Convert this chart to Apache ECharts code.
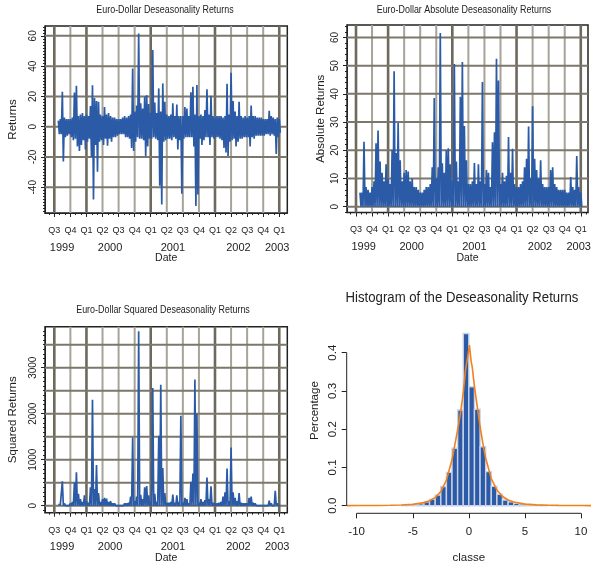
<!DOCTYPE html>
<html><head><meta charset="utf-8">
<script src="https://cdn.jsdelivr.net/npm/echarts@6/dist/echarts.min.js"></script>
<style>html,body{margin:0;padding:0;background:#fff}#c{width:591px;height:568px}</style>
</head><body><div id="c"></div>
<script>
// ---------- data ----------
const quarterPos = [0,1,2,3,4,5,6,7,8,9,10,11,12,13,14];
const quarterLabels = ['Q3','Q4','Q1','Q2','Q3','Q4','Q1','Q2','Q3','Q4','Q1','Q2','Q3','Q4','Q1'];
const yearPos = [0.48, 3.47, 7.38, 11.46, 13.87];
const yearLabels = ['1999','2000','2001','2002','2003'];

// returns envelope per time bin (quarters after Q3 1999, bins of 1/8 quarter)
const binStart = 0.25, binStep = 0.125;
const retHi = [4,5,23,6,5,5,5,6,22.5,27,7,8,9,7,8,7,13.6,27.3,19,17,16.5,8,7,13,8,9,7,6,6,5,
  5,5,6,7,6,7,8,38.5,10,14,61.6,15.4,12,20,20.7,15,9,50.6,16,9,25.3,10,28.6,16.5,8,7,8,15.5,7,14.7,
  7,7,7,13,12,7,22.8,26.4,8,27.5,7,8,7,11,24.7,8,20.5,7,6,7,7,7,6,7,28.4,8,35.6,17,10,7,
  16.5,7,6,7,6,7,14,7,7,6,6,6,5,5,5,10.5,7,6,5,6,5];
const retLo = [-5,-5,-23,-7,-6,-5,-7,-9,-8,-13,-16,-12,-9,-15,-10,-8,-20,-48,-12,-29.7,-10,-9,-12,-8,-12.5,-8,-10,-7,-7,-6,
  -5,-5,-5,-7,-7,-8,-14,-16,-10,-7,-8,-8,-9,-19.4,-13,-8,-8,-7,-8,-9,-39,-51.3,-10,-9,-8,-8,-9,-7,-8,-15,
  -9,-44.2,-8,-7,-7,-7,-7,-13,-52.4,-44.7,-8,-12,-9,-7,-7,-12,-7,-8,-7,-7,-8,-9,-14,-17,-19.4,-10,-9,-8,-13,-10,
  -8,-8,-7,-7,-7,-13,-7,-8,-6,-6,-6,-6,-6,-5,-5,-6,-5,-6,-18,-7,-4];

const retTicks = [-40,-20,0,20,40,60];
const absTicks = [0,10,20,30,40,50,60];
const sqTicks = [0,1000,2000,3000];
const sqGridVals = [0,500,1000,1500,2000,2500,3000,3500];

// histogram
const histBinLo = [-6,-5.5,-5,-4.5,-4,-3.5,-3,-2.5,-2,-1.5,-1,-0.5,0,0.5,1,1.5,2,2.5,3,3.5,4,4.5,5,5.5,6,6.5];
const histBinWidth = 0.5;
const histPct = [0.001,0.0015,0.003,0.005,0.01,0.017,0.028,0.05,0.087,0.15,0.25,0.45,0.311,0.252,0.154,0.089,0.051,0.03,0.015,0.01,0.006,0.004,0.003,0.002,0.0015,0.001];
const densX = [-10.89,-10,-8,-7,-6,-5,-4,-3.5,-3,-2.5,-2,-1.5,-1.25,-1,-0.75,-0.5,-0.3,-0.15,0.05,0.2,0.3,0.5,0.75,1,1.25,1.5,2,2.5,3,3.5,4,5,6,7,8,10,10.89];
const densY = [0.0002,0.0003,0.0006,0.001,0.0018,0.0035,0.008,0.013,0.021,0.037,0.067,0.12,0.159,0.198,0.241,0.294,0.355,0.38,0.42,0.378,0.363,0.311,0.259,0.207,0.163,0.124,0.071,0.041,0.024,0.015,0.0096,0.004,0.0022,0.0012,0.0007,0.0003,0.0002];
const histXTicks = [-10,-5,0,5,10];
const histYTicks = [0,0.1,0.2,0.3,0.4];

// ---------- build ----------
const FONT = "'Liberation Sans',Arial,Helvetica,sans-serif";
const BLUE = '#2b5aa6';
const INK = '#222';

const retData = [], absData = [], sqData = [];
retHi.forEach((h, i) => {
  const t = binStart + i * binStep;
  const l = retLo[i];
  const a = Math.max(h, -l);
  retData.push([t, h], [t + binStep / 2, l]);
  absData.push([t, a], [t + binStep / 2, 0]);
  sqData.push([t, a * a], [t + binStep / 2, 0]);
});

function range(a, b, s) { const r = []; for (let v = a; v <= b + 1e-9; v += s) r.push(+v.toFixed(6)); return r; }

const grids = [], xAxes = [], yAxes = [], series = [];

function tsPanel(cfg) {
  const g = grids.length;
  grids.push({left: cfg.left, top: cfg.top, width: cfg.width, height: cfg.height, show: true,
    borderColor: INK, borderWidth: 1.5, backgroundColor: 'transparent', containLabel: false, outerBoundsMode: 'none'});
  const xi = xAxes.length, yi = yAxes.length;
  const lblFont = {fontFamily: FONT, color: INK};
  xAxes.push({gridIndex: g, type: 'value', min: cfg.xmin, max: cfg.xmax, position: 'bottom',
    axisLine: {show: true, onZero: false, lineStyle: {color: INK, width: 1}},
    axisTick: {show: true, customValues: quarterPos, length: 4, lineStyle: {color: INK}},
    axisLabel: Object.assign({show: true, customValues: quarterPos, margin: 13, fontSize: 9,
      formatter: v => quarterLabels[quarterPos.indexOf(Math.round(v))]}, lblFont),
    splitLine: {show: false},
    name: 'Date', nameLocation: 'middle', nameGap: 40, nameTextStyle: {fontFamily: FONT, fontSize: 10.5, color: INK}});
  xAxes.push({gridIndex: g, type: 'value', min: cfg.xmin, max: cfg.xmax, position: 'bottom',
    axisLine: {show: false, onZero: false},
    axisTick: {show: true, customValues: range(-1/3, 14.34, 1/3), length: 2, lineStyle: {color: INK}},
    axisLabel: {show: false}, splitLine: {show: false}});
  xAxes.push({gridIndex: g, type: 'value', min: cfg.xmin, max: cfg.xmax, position: 'bottom',
    axisLine: {show: false, onZero: false}, axisTick: {show: false},
    axisLabel: Object.assign({show: true, customValues: yearPos, margin: 29, fontSize: 11,
      formatter: v => yearLabels[yearPos.indexOf(v)]}, lblFont),
    splitLine: {show: false}});
  yAxes.push({gridIndex: g, type: 'value', min: cfg.ymin, max: cfg.ymax, position: 'left',
    axisLine: {show: true, onZero: false, lineStyle: {color: INK, width: 1}},
    axisTick: {show: true, customValues: cfg.yTicks, length: 4, lineStyle: {color: INK}},
    axisLabel: Object.assign({show: true, customValues: cfg.yTicks, rotate: 90, margin: 7, fontSize: 10,
      formatter: v => String(v)}, lblFont),
    splitLine: {show: false},
    name: cfg.yName, nameLocation: 'middle', nameGap: cfg.nameGap, nameTextStyle: {fontFamily: FONT, fontSize: 11.5, color: INK}});
  yAxes.push({gridIndex: g, type: 'value', min: cfg.ymin, max: cfg.ymax, position: 'left',
    axisLine: {show: false, onZero: false},
    axisTick: {show: true, customValues: range(cfg.minorStart, cfg.ymax, cfg.minorStep), length: 2, lineStyle: {color: INK}},
    axisLabel: {show: false}, splitLine: {show: false}});
  // grid lines
  series.push({type: 'custom', xAxisIndex: xi, yAxisIndex: yi, silent: true, z: 1,
    data: quarterPos.map((q, k) => [q, k]),
    renderItem: (params, api) => {
      const cs = params.coordSys; const k = api.value(1);
      const p = api.coord([api.value(0), cfg.ymin]);
      const dark = quarterLabels[k] === 'Q1' || k === 0;
      return {type: 'line', shape: {x1: p[0], y1: cs.y, x2: p[0], y2: cs.y + cs.height},
        style: {stroke: dark ? '#6e695d' : '#a7a398', lineWidth: dark ? 2.6 : 2}};
    }});
  series.push({type: 'custom', xAxisIndex: xi, yAxisIndex: yi, silent: true, z: 1,
    data: cfg.yGrid.map(v => [cfg.xmin, v]),
    renderItem: (params, api) => {
      const cs = params.coordSys;
      const p = api.coord([cfg.xmin, api.value(1)]);
      return {type: 'line', shape: {x1: cs.x, y1: p[1], x2: cs.x + cs.width, y2: p[1]},
        style: {stroke: '#7c776b', lineWidth: 2}};
    }});
  series.push({type: 'line', xAxisIndex: xi, yAxisIndex: yi, z: 3, data: cfg.data, symbol: 'none',
    silent: true, lineStyle: {color: BLUE, width: 1.7}});
}

tsPanel({left: 45, top: 26, width: 242.3, height: 187, xmin: -0.58, xmax: 14.5, ymin: -57, ymax: 66.5,
  yTicks: retTicks, yGrid: retTicks, minorStart: -56, minorStep: 2, yName: 'Returns', nameGap: 26, data: retData});
tsPanel({left: 347, top: 25, width: 241, height: 187.5, xmin: -0.56, xmax: 14.45, ymin: -2.05, ymax: 64.4,
  yTicks: absTicks, yGrid: absTicks, minorStart: -2, minorStep: 2, yName: 'Absolute Returns', nameGap: 20, data: absData});
tsPanel({left: 45, top: 326.7, width: 242.3, height: 186, xmin: -0.58, xmax: 14.5, ymin: -152, ymax: 3891,
  yTicks: sqTicks, yGrid: sqGridVals, minorStart: -100, minorStep: 100, yName: 'Squared Returns', nameGap: 26, data: sqData});

// histogram panel
(function () {
  const g = grids.length;
  const HX = {min: -10.89, max: 10.89}, HY = {min: -0.0199, max: 0.517};
  grids.push({left: 346.7, top: 307.9, right: 0, height: 205.4, show: false, containLabel: false, outerBoundsMode: 'none'});
  const xi = xAxes.length, yi = yAxes.length;
  xAxes.push({gridIndex: g, type: 'value', min: HX.min, max: HX.max, position: 'bottom',
    axisLine: {show: false, onZero: false},
    axisTick: {show: true, customValues: histXTicks, length: 5, lineStyle: {color: INK}},
    axisLabel: {show: true, customValues: histXTicks, margin: 13, fontSize: 11.5, fontFamily: FONT, color: INK,
      formatter: v => String(v)},
    splitLine: {show: false},
    name: 'classe', nameLocation: 'middle', nameGap: 39, nameTextStyle: {fontFamily: FONT, fontSize: 11.5, color: INK}});
  yAxes.push({gridIndex: g, type: 'value', min: HY.min, max: HY.max, position: 'left',
    axisLine: {show: false, onZero: false},
    axisTick: {show: true, customValues: histYTicks, length: 5, lineStyle: {color: INK}},
    axisLabel: {show: true, customValues: histYTicks, rotate: 90, margin: 8, fontSize: 11.5, fontFamily: FONT, color: INK,
      formatter: v => v.toFixed(1)},
    splitLine: {show: false},
    name: 'Percentage', nameLocation: 'middle', nameGap: 26, nameTextStyle: {fontFamily: FONT, fontSize: 11.5, color: INK}});
  // axis segments (R style)
  series.push({type: 'line', xAxisIndex: xi, yAxisIndex: yi, clip: false, symbol: 'none', silent: true, z: 5,
    data: [[histXTicks[0], HY.min], [histXTicks[histXTicks.length - 1], HY.min]], lineStyle: {color: INK, width: 1}});
  series.push({type: 'line', xAxisIndex: xi, yAxisIndex: yi, clip: false, symbol: 'none', silent: true, z: 5,
    data: [[HX.min, histYTicks[0]], [HX.min, histYTicks[histYTicks.length - 1]]], lineStyle: {color: INK, width: 1}});
  series.push({type: 'custom', xAxisIndex: xi, yAxisIndex: yi, z: 2, silent: true,
    data: histBinLo.map((lo, i) => [lo, lo + histBinWidth, histPct[i]]),
    renderItem: (params, api) => {
      const p0 = api.coord([api.value(0), 0]);
      const p1 = api.coord([api.value(1), api.value(2)]);
      return {type: 'rect', shape: {x: p0[0], y: p1[1], width: p1[0] - p0[0], height: p0[1] - p1[1]},
        style: {fill: BLUE, stroke: '#c9d3e8', lineWidth: 1.4}};
    }});
  series.push({type: 'line', xAxisIndex: xi, yAxisIndex: yi, z: 4, symbol: 'none', silent: true,
    data: densX.map((x, i) => [x, densY[i]]), lineStyle: {color: '#f0821e', width: 1.6}});
})();

const titles = [
  {text: 'Euro-Dollar Deseasonality Returns', x: 165, y: 10, size: 10.5},
  {text: 'Euro-Dollar Absolute Deseasonality Returns', x: 464, y: 10.5, size: 10.5},
  {text: 'Euro-Dollar Squared Deseasonality Returns', x: 163, y: 310, size: 10.5},
  {text: 'Histogram of the Deseasonality Returns', x: 462, y: 298, size: 15.5}
];

const chart = echarts.init(document.getElementById('c'), null, {renderer: 'canvas'});
chart.setOption({
  animation: false,
  backgroundColor: '#fff',
  grid: grids, xAxis: xAxes, yAxis: yAxes, series: series,
  graphic: titles.map(t => ({type: 'text', x: t.x, y: t.y, scaleX: 0.85, silent: true,
    style: {text: t.text, fontFamily: FONT, fontSize: t.size, fill: INK, align: 'center', verticalAlign: 'middle'}}))
});
</script></body></html>
